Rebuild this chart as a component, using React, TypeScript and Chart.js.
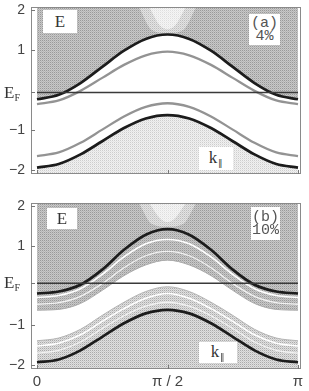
import React, { useEffect, useRef } from 'react';
import { Chart, registerables } from 'chart.js';

Chart.register(...registerables);

// k in units of pi
const K = [0, 0.0833, 0.1667, 0.25, 0.3333, 0.4167, 0.5, 0.5833, 0.6667, 0.75, 0.8333, 0.9167, 1];
const X_TICKS = [0, 0.5, 1];
const X_TICK_LABELS = ['0', 'π / 2', 'π'];
const Y_TICKS = [-2, -1, 1, 2];
const Y_TICK_LABELS = ['−2', '−1', '1', '2'];

// panel (a) 4%
const EF_A = -0.06;
const A_BLACK_UP = [-0.23, -0.12, 0.175, 0.58, 0.985, 1.28, 1.39, 1.28, 0.985, 0.58, 0.175, -0.12, -0.23];
const A_GRAY_UP = [-0.35, -0.26, -0.02, 0.305, 0.63, 0.87, 0.96, 0.87, 0.63, 0.305, -0.02, -0.26, -0.35];
const A_GRAY_LOW = [-1.65, -1.56, -1.32, -0.99, -0.66, -0.42, -0.33, -0.42, -0.66, -0.99, -1.32, -1.56, -1.65];
const A_BLACK_LOW = [-1.94, -1.85, -1.61, -1.28, -0.95, -0.71, -0.625, -0.71, -0.95, -1.28, -1.61, -1.85, -1.94];
const WEDGE_OUT_K = [0.39, 0.44, 0.5, 0.56, 0.61];
const WEDGE_IN_K = [0.43, 0.47, 0.5, 0.53, 0.57];
const A_WEDGE_OUT = [2.08, 1.5, 1.42, 1.5, 2.08];
const A_WEDGE_IN = [2.08, 1.62, 1.52, 1.62, 2.08];

// panel (b) 10%
const EF_B = 0.06;
const B_BLACK_UP = [-0.2, -0.15, 0.02, 0.4, 0.9, 1.28, 1.42, 1.28, 0.9, 0.4, 0.02, -0.15, -0.2];
const B_BLACK_LOW = [-1.93, -1.86, -1.63, -1.29, -0.95, -0.7, -0.61, -0.7, -0.95, -1.29, -1.63, -1.86, -1.93];
const B_UPPER_EDGE = [-0.62, -0.6, -0.45, -0.12, 0.25, 0.52, 0.64, 0.52, 0.25, -0.12, -0.45, -0.6, -0.62];
const B_LOWER_EDGE = [-1.39, -1.32, -1.1, -0.75, -0.42, -0.15, -0.03, -0.15, -0.42, -0.75, -1.1, -1.32, -1.39];
const B_WHITE_1 = [-0.3, -0.25, -0.08, 0.28, 0.72, 1.05, 1.16, 1.05, 0.72, 0.28, -0.08, -0.25, -0.3];
const B_WHITE_2 = [-0.47, -0.43, -0.27, 0.05, 0.45, 0.75, 0.86, 0.75, 0.45, 0.05, -0.27, -0.43, -0.47];
const B_WHITE_3 = [-1.52, -1.45, -1.24, -0.9, -0.58, -0.32, -0.2, -0.32, -0.58, -0.9, -1.24, -1.45, -1.52];
const B_WHITE_4 = [-1.7, -1.63, -1.42, -1.08, -0.76, -0.52, -0.42, -0.52, -0.76, -1.08, -1.42, -1.63, -1.7];
const B_WEDGE_OUT = [2.08, 1.55, 1.48, 1.55, 2.08];
const B_WEDGE_IN = [2.08, 1.7, 1.6, 1.7, 2.08];

const X_MIN = -0.023;
const X_MAX = 1.0115;

const SANS = "'Liberation Sans', Arial, sans-serif";
const SERIF = "'Liberation Serif', 'Times New Roman', serif";
const MONO = "'Liberation Mono', 'Courier New', monospace";

function makePattern(rows: string[][]): CanvasPattern | string {
  const c = document.createElement('canvas');
  c.width = rows[0].length;
  c.height = rows.length;
  const g = c.getContext('2d');
  if (!g) return rows[0][0];
  rows.forEach((r, j) => r.forEach((col, i) => {
    g.fillStyle = col;
    g.fillRect(i, j, 1, 1);
  }));
  return g.createPattern(c, 'repeat') || rows[0][0];
}

const pts = (xs: number[], ys: number[]) => xs.map((x, i) => ({ x, y: ys[i] }));

function line(data: any[], color: string, width: number, extra: any = {}) {
  return {
    data,
    borderColor: color,
    borderWidth: width,
    pointRadius: 0,
    fill: false,
    cubicInterpolationMode: 'monotone',
    ...extra,
  };
}

const framePlugin = (ef: number) => ({
  id: 'frame',
  afterDraw(chart: any) {
    const { ctx, chartArea } = chart;
    const { left, right, top, bottom } = chartArea;
    const xs = chart.scales.x;
    const ys = chart.scales.y;
    ctx.save();
    ctx.strokeStyle = '#8a8a8a';
    ctx.lineWidth = 1;
    ctx.strokeRect(left + 0.5, top + 0.5, right - left - 1, bottom - top - 1);
    ctx.strokeStyle = '#777';
    ctx.beginPath();
    [...Y_TICKS, ef].forEach((v) => {
      const py = Math.round(ys.getPixelForValue(v)) + 0.5;
      ctx.moveTo(left, py);
      ctx.lineTo(left + 4, py);
    });
    X_TICKS.forEach((v) => {
      const px = Math.round(xs.getPixelForValue(v)) + 0.5;
      ctx.moveTo(px, bottom);
      ctx.lineTo(px, bottom - 4);
    });
    ctx.stroke();
    ctx.restore();
  },
});

function makeConfig(datasets: any[], opts: { top: number; xh: number; showX: boolean; ef: number }) {
  return {
    type: 'line',
    data: { datasets },
    options: {
      animation: false,
      responsive: false,
      devicePixelRatio: 1,
      events: [],
      layout: { padding: { top: opts.top, right: 8, left: 0, bottom: 0 } },
      plugins: {
        legend: { display: false },
        tooltip: { enabled: false },
        filler: { drawTime: 'beforeDatasetsDraw', propagate: false },
      },
      scales: {
        x: {
          type: 'linear',
          min: X_MIN,
          max: X_MAX,
          grid: { display: false, drawTicks: false },
          border: { display: false },
          ticks: {
            display: opts.showX,
            padding: 4,
            maxRotation: 0,
            autoSkip: false,
            color: '#444',
            font: { family: SANS, size: 15 },
            callback: (v: number) => {
              const i = X_TICKS.indexOf(v);
              return i >= 0 ? X_TICK_LABELS[i] : '';
            },
          },
          afterBuildTicks: (s: any) => {
            s.ticks = X_TICKS.map((value) => ({ value }));
          },
          afterFit: (s: any) => {
            s.height = opts.xh;
            s.paddingLeft = 0;
            s.paddingRight = 0;
          },
        },
        y: {
          type: 'linear',
          min: -2.1,
          max: 2.078,
          grid: { display: false, drawTicks: false },
          border: { display: false },
          ticks: {
            padding: 6,
            color: '#444',
            font: { family: SANS, size: 14 },
            callback: (v: number) => {
              const i = Y_TICKS.indexOf(v);
              return i >= 0 ? Y_TICK_LABELS[i] : '';
            },
          },
          afterBuildTicks: (s: any) => {
            s.ticks = Y_TICKS.map((value) => ({ value }));
          },
          afterFit: (s: any) => {
            s.width = 31;
            s.paddingTop = 0;
            s.paddingBottom = 0;
          },
        },
      },
    },
    plugins: [framePlugin(opts.ef)],
  };
}

const Box = ({ l, t, w, h, children }: any) => (
  <div
    style={{
      position: 'absolute', left: l, top: t, width: w, height: h, background: '#fff',
      display: 'flex', flexDirection: 'column', alignItems: 'center', justifyContent: 'center',
    }}
  >
    {children}
  </div>
);

const EText = () => <span style={{ fontFamily: SERIF, fontSize: 17, color: '#333', lineHeight: '17px' }}>E</span>;
const KText = () => (
  <span style={{ fontFamily: SERIF, fontSize: 17, color: '#333', lineHeight: '17px' }}>
    k<span style={{ fontSize: 9, position: 'relative', top: 3, marginLeft: 1 }}>∥</span>
  </span>
);
const Tag = ({ a, b }: { a: string; b: string }) => (
  <div style={{ fontFamily: MONO, fontSize: 15, color: '#555', lineHeight: '13px', textAlign: 'center' }}>
    <div>{a}</div>
    <div>{b}</div>
  </div>
);
const EF = ({ t }: { t: number }) => (
  <div style={{ position: 'absolute', left: 4, top: t, fontFamily: SERIF, fontSize: 17, color: '#333', lineHeight: '17px' }}>
    E<span style={{ fontSize: 10, position: 'relative', top: 3 }}>F</span>
  </div>
);

export default function App() {
  const refA = useRef<HTMLCanvasElement>(null);
  const refB = useRef<HTMLCanvasElement>(null);

  useEffect(() => {
    const dense = makePattern([
      ['#999999', '#c6c6c6'],
      ['#c9c9c9', '#b6b6b6'],
    ]);
    const light = makePattern([
      ['#cdcdcd', '#f2f2f2'],
      ['#efefef', '#e4e4e4'],
    ]);
    const medium = makePattern([
      ['#aaaaaa', '#dedede'],
      ['#e0e0e0', '#cccccc'],
    ]);
    const mid = makePattern([
      ['#bcbcbc', '#e2e2e2'],
      ['#e4e4e4', '#d2d2d2'],
    ]);
    const pale = makePattern([
      ['#dedede', '#f6f6f6'],
      ['#f4f4f4', '#ececec'],
    ]);

    const dsA = [
      line(pts([0, 1], [EF_A, EF_A]), '#3a3a3a', 1.5, { order: 0, cubicInterpolationMode: 'default' }),
      line(pts(K, A_BLACK_UP), '#1c1c1c', 2.7, { order: 1, fill: 'end', backgroundColor: dense }),
      line(pts(K, A_BLACK_LOW), '#1c1c1c', 2.7, { order: 2, fill: 'start', backgroundColor: light }),
      line(pts(K, A_GRAY_UP), '#939393', 2.3, { order: 3 }),
      line(pts(K, A_GRAY_LOW), '#939393', 2.3, { order: 4 }),
      line(pts(WEDGE_OUT_K, A_WEDGE_OUT), 'rgba(0,0,0,0)', 0, { order: 0.6, fill: 'end', backgroundColor: mid }),
      line(pts(WEDGE_IN_K, A_WEDGE_IN), 'rgba(0,0,0,0)', 0, { order: 0.5, fill: 'end', backgroundColor: pale }),
    ];

    const dsB = [
      line(pts([0, 1], [EF_B, EF_B]), '#3a3a3a', 1.5, { order: 0, cubicInterpolationMode: 'default' }),
      line(pts(K, B_BLACK_UP), '#1c1c1c', 2.7, { order: 1 }),
      line(pts(K, B_BLACK_LOW), '#1c1c1c', 2.7, { order: 2 }),
      line(pts(K, B_WHITE_1), '#ffffff', 1.6, { order: 3 }),
      line(pts(K, B_WHITE_2), '#f2f2f2', 1.3, { order: 4 }),
      line(pts(K, B_WHITE_3), '#ffffff', 1.6, { order: 5 }),
      line(pts(K, B_WHITE_4), '#f2f2f2', 1.3, { order: 6 }),
      line(pts(WEDGE_IN_K, B_WEDGE_IN), 'rgba(0,0,0,0)', 0, { order: 8, fill: 'end', backgroundColor: pale }),
      line(pts(WEDGE_OUT_K, B_WEDGE_OUT), 'rgba(0,0,0,0)', 0, { order: 9, fill: 'end', backgroundColor: mid }),
      line(pts(K, B_UPPER_EDGE), '#ababab', 1, { order: 10, fill: 'end', backgroundColor: dense }),
      line(pts(K, B_LOWER_EDGE), '#b4b4b4', 1, { order: 11, fill: 'start', backgroundColor: medium }),
    ];

    const ca = new Chart(refA.current as HTMLCanvasElement, makeConfig(dsA, { top: 7, xh: 16, showX: false, ef: EF_A }) as any);
    const cb = new Chart(refB.current as HTMLCanvasElement, makeConfig(dsB, { top: 13, xh: 22, showX: true, ef: EF_B }) as any);
    return () => {
      ca.destroy();
      cb.destroy();
    };
  }, []);

  return (
    <div style={{ position: 'fixed', left: 0, top: 0, width: 309, height: 391, background: '#fff', overflow: 'hidden' }}>
      <canvas ref={refA} width={309} height={190} style={{ position: 'absolute', left: 0, top: 0 }} />
      <canvas ref={refB} width={309} height={201} style={{ position: 'absolute', left: 0, top: 190 }} />

      <Box l={43} t={10} w={34} h={23}><EText /></Box>
      <Box l={249} t={14} w={31} h={31}><Tag a="(a)" b="4%" /></Box>
      <Box l={199} t={147} w={34} h={23}><KText /></Box>
      <EF t={84} />

      <Box l={47} t={208} w={30} h={21}><EText /></Box>
      <Box l={251} t={207} w={29} h={33}><Tag a="(b)" b="10%" /></Box>
      <Box l={199} t={342} w={38} h={21}><KText /></Box>
      <EF t={274} />
    </div>
  );
}
